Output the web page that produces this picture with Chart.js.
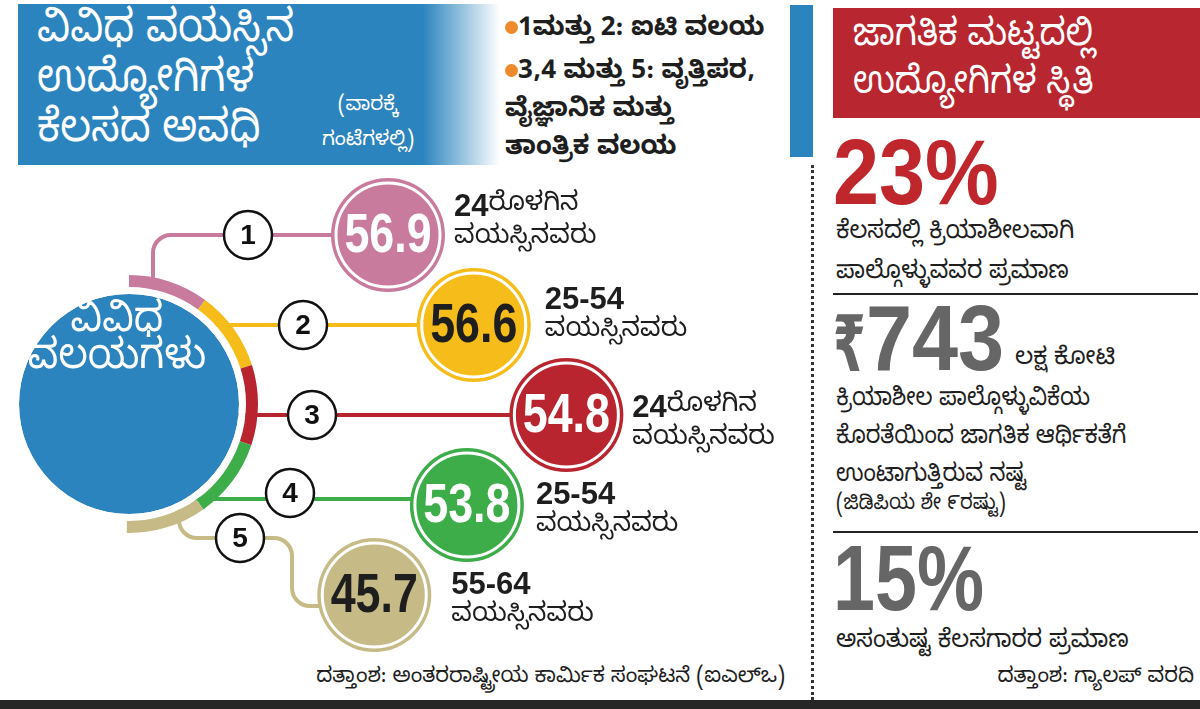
<!DOCTYPE html>
<html lang="kn">
<head>
<meta charset="utf-8">
<script src="https://cdn.jsdelivr.net/npm/chart.js@4.4.1/dist/chart.umd.min.js"></script>
<style>
  html, body { margin: 0; padding: 0; background: #fff; }
  #pagina { position: relative; width: 1200px; height: 709px; overflow: hidden; background: #fff;
            font-family: "Noto Sans Kannada", "Noto Sans", "DejaVu Sans", sans-serif; color: #1e1e1e; }
  .abs { position: absolute; white-space: nowrap; }
  .estreito { transform-origin: left top; }
  .numeroGrande { font-family: "Liberation Sans", Arial, sans-serif; font-weight: bold; font-size: 92px;
                  line-height: 92px; transform: scaleX(0.9); transform-origin: left top; }
  .texto26 { font-size: 25px; line-height: 40px; }
  .fonte { font-size: 21px; line-height: 30px; }
</style>
</head>
<body>
<div id="pagina">

  <!-- cabeçalho azul da esquerda -->
  <div class="abs" style="left:18px;top:4px;width:482px;height:161px;background:linear-gradient(to right,#2b84be 0%,#2b84be 84%,#ffffff 100%);"></div>
  <div class="abs estreito" style="left:37px;top:10px;font-size:45px;line-height:50px;color:#fff;transform:scaleX(0.9);">ವಿವಿಧ ವಯಸ್ಸಿನ<br>ಉದ್ಯೋಗಿಗಳ<br>ಕೆಲಸದ ಅವಧಿ</div>
  <div class="abs" style="left:312px;top:90px;width:112px;text-align:center;font-size:20px;line-height:35px;color:#fff;">(ವಾರಕ್ಕೆ<br>ಗಂಟೆಗಳಲ್ಲಿ)</div>

  <!-- legenda dos setores -->
  <div class="abs" style="left:505px;top:13px;font-size:26px;line-height:38px;font-weight:bold;">
    <span style="display:inline-block;width:13px;height:13px;border-radius:50%;background:#ef8a2c;vertical-align:middle;"></span>1ಮತ್ತು 2: ಐಟಿ ವಲಯ</div>
  <div class="abs" style="left:505px;top:56px;font-size:26px;line-height:38px;font-weight:bold;">
    <span style="display:inline-block;width:13px;height:13px;border-radius:50%;background:#ef8a2c;vertical-align:middle;"></span>3,4 ಮತ್ತು 5: ವೃತ್ತಿಪರ,<br>ವೈಜ್ಞಾನಿಕ ಮತ್ತು<br>ತಾಂತ್ರಿಕ ವಲಯ</div>

  <!-- barra azul e linha pontilhada -->
  <div class="abs" style="left:790px;top:5px;width:23px;height:152px;background:#2b84be;"></div>
  <div class="abs" style="left:811px;top:165px;height:535px;border-left:3px dotted #333;"></div>

  <!-- painel da direita -->
  <div class="abs" style="left:833px;top:8px;width:367px;height:110px;background:#b8262f;"></div>
  <div class="abs estreito" style="left:853px;top:16px;font-size:38px;line-height:48px;color:#fff;transform:scaleX(0.9);">ಜಾಗತಿಕ ಮಟ್ಟದಲ್ಲಿ<br>ಉದ್ಯೋಗಿಗಳ ಸ್ಥಿತಿ</div>

  <div class="abs numeroGrande" style="left:833px;top:126px;color:#c0272d;">23%</div>
  <div class="abs texto26 estreito" style="left:836px;top:215px;transform:scaleX(0.94);">ಕೆಲಸದಲ್ಲಿ ಕ್ರಿಯಾಶೀಲವಾಗಿ<br>ಪಾಲ್ಗೊಳ್ಳುವವರ ಪ್ರಮಾಣ</div>
  <div class="abs" style="left:833px;top:293px;width:365px;height:2px;background:#222;"></div>

  <div class="abs" style="left:833px;top:298px;font-family:'DejaVu Sans',sans-serif;font-weight:bold;font-size:78px;line-height:92px;color:#666;transform:scaleX(0.6);transform-origin:left top;">₹</div>
  <div class="abs numeroGrande" style="left:866px;top:292px;color:#666;">743</div>
  <div class="abs" style="left:1015px;top:344px;font-size:24px;line-height:34px;">ಲಕ್ಷ ಕೋಟಿ</div>
  <div class="abs texto26 estreito" style="left:836px;top:383px;line-height:38px;transform:scaleX(0.9);">ಕ್ರಿಯಾಶೀಲ ಪಾಲ್ಗೊಳ್ಳುವಿಕೆಯ<br>ಕೊರತೆಯಿಂದ ಜಾಗತಿಕ ಆರ್ಥಿಕತೆಗೆ<br>ಉಂಟಾಗುತ್ತಿರುವ ನಷ್ಟ</div>
  <div class="abs estreito" style="left:836px;top:490px;font-size:21px;line-height:32px;transform:scaleX(0.93);">(ಜಿಡಿಪಿಯ ಶೇ ೯ರಷ್ಟು)</div>
  <div class="abs" style="left:833px;top:531px;width:365px;height:2px;background:#222;"></div>

  <div class="abs numeroGrande" style="left:833px;top:532px;color:#666;transform:scaleX(0.82);">15%</div>
  <div class="abs texto26 estreito" style="left:836px;top:624px;transform:scaleX(0.94);">ಅಸಂತುಷ್ಟ ಕೆಲಸಗಾರರ ಪ್ರಮಾಣ</div>
  <div class="abs fonte" style="right:6px;top:664px;">ದತ್ತಾಂಶ: ಗ್ಯಾಲಪ್ ವರದಿ</div>

  <!-- fonte do gráfico da esquerda -->
  <div class="abs fonte" style="right:415px;top:664px;">ದತ್ತಾಂಶ: ಅಂತರರಾಷ್ಟ್ರೀಯ ಕಾರ್ಮಿಕ ಸಂಘಟನೆ (ಐಎಲ್‌ಒ)</div>

  <!-- faixa preta do rodapé -->
  <div class="abs" style="left:0;top:700px;width:1200px;height:9px;background:#262626;"></div>

  <canvas id="graficoBolhas" class="abs" width="800" height="700" style="left:0;top:0;"></canvas>
  <canvas id="graficoAnel" class="abs" width="258" height="258" style="left:0;top:275px;"></canvas>
</div>

<script>
// ============================================================
// Dados: horas semanais de trabalho por setor e faixa etária
// ============================================================
const setores        = ["1", "2", "3", "4", "5"];
const horasSemanais  = [56.9, 56.6, 54.8, 53.8, 45.7];
const faixaNumero    = ["24", "25-54", "24", "25-54", "55-64"];
const faixaSufixo    = ["ರೊಳಗಿನ", "", "ರೊಳಗಿನ", "", ""];
const faixaSegunda   = ["ವಯಸ್ಸಿನವರು", "ವಯಸ್ಸಿನವರು", "ವಯಸ್ಸಿನವರು", "ವಯಸ್ಸಿನವರು", "ವಯಸ್ಸಿನವರು"];
const fatiaAnel      = [1, 1, 1, 1, 1];   // cada setor ocupa a mesma fatia do anel
const tituloCentro   = ["ವಿವಿಧ", "ವಲಯಗಳು"];

// ------------------------------------------------------------
// Estilos e posições (layout, não dados)
// ------------------------------------------------------------
const coresSetor  = ["#c97b9e", "#f6bd1a", "#b8252f", "#3dad4a", "#c6bb86"];
const corTexto    = ["#ffffff", "#1e1e1e", "#ffffff", "#ffffff", "#1e1e1e"];
const bolhaX      = [386, 486, 594, 478, 370];   // centro horizontal de cada bolha
const numeroX     = [248, 303, 312, 290, 240];   // círculo numerado sobre a linha
const rotuloDx    = [66, 71, 66, 69, 77];        // texto da faixa etária, à direita da bolha
const rotuloDy    = [-28, -25, -7, -10, -10];
const CENTRO_X = 129, CENTRO_Y = 404;            // centro do círculo azul
const FONTE_KN = '"Noto Sans Kannada", "Noto Sans", "DejaVu Sans", sans-serif';

// ------------------------------------------------------------
// Plugin: linhas de ligação, círculos numerados e textos
// ------------------------------------------------------------
const pluginLigacoes = {
  id: "ligacoes",
  beforeDatasetsDraw(chart) {
    const ctx = chart.ctx;
    const pts = chart.getDatasetMeta(0).data;
    const R = 18;
    ctx.save();
    pts.forEach((p, i) => {
      ctx.lineWidth = 4;
      ctx.strokeStyle = coresSetor[i];
      ctx.beginPath();
      if (i === 0) {
        const xv = CENTRO_X + 24;
        ctx.moveTo(xv, CENTRO_Y);
        ctx.lineTo(xv, p.y + R);
        ctx.arcTo(xv, p.y, xv + R, p.y, R);
        ctx.lineTo(p.x, p.y);
      } else if (i === 4) {
        const xv = CENTRO_X + 50, ya = p.y - 57, xb = 292, yb = p.y + 11;
        ctx.moveTo(xv, CENTRO_Y);
        ctx.lineTo(xv, ya - R);
        ctx.arcTo(xv, ya, xv + R, ya, R);
        ctx.lineTo(xb - R, ya);
        ctx.arcTo(xb, ya, xb, ya + R, R);
        ctx.lineTo(xb, yb - R);
        ctx.arcTo(xb, yb, xb + R, yb, R);
        ctx.lineTo(p.x, yb);
      } else {
        const yl = i === 3 ? p.y - 6 : p.y;
        ctx.moveTo(CENTRO_X, yl);
        ctx.lineTo(p.x, yl);
      }
      ctx.stroke();

      // círculo branco com o número do setor
      const ny = i === 4 ? p.y - 57 : (i === 3 ? p.y - 12 : p.y);
      ctx.beginPath();
      ctx.arc(numeroX[i], ny, 24, 0, Math.PI * 2);
      ctx.fillStyle = "#fff";
      ctx.fill();
      ctx.lineWidth = 2.5;
      ctx.strokeStyle = "#111";
      ctx.stroke();
      ctx.fillStyle = "#111";
      ctx.font = 'bold 28px "Liberation Sans", Arial, sans-serif';
      ctx.textAlign = "center";
      ctx.textBaseline = "middle";
      ctx.fillText(setores[i], numeroX[i], ny + 1);
    });
    ctx.restore();
  },
  afterDatasetsDraw(chart) {
    const ctx = chart.ctx;
    const pts = chart.getDatasetMeta(0).data;
    ctx.save();
    pts.forEach((p, i) => {
      // valor dentro da bolha (fonte estreitada na horizontal)
      ctx.save();
      ctx.translate(p.x, p.y + 2);
      ctx.scale(0.8, 1);
      ctx.fillStyle = corTexto[i];
      ctx.font = 'bold 56px "Liberation Sans", Arial, sans-serif';
      ctx.textAlign = "center";
      ctx.textBaseline = "middle";
      ctx.fillText(horasSemanais[i].toFixed(1), 0, 0);
      ctx.restore();

      // faixa etária à direita
      const xl = p.x + rotuloDx[i];
      const yl = p.y + rotuloDy[i];
      ctx.textAlign = "left";
      ctx.textBaseline = "middle";
      ctx.fillStyle = "#1e1e1e";
      ctx.font = 'bold 31px "Liberation Sans", Arial, sans-serif';
      ctx.fillText(faixaNumero[i], xl, yl);
      const w = ctx.measureText(faixaNumero[i]).width;
      ctx.font = "26px " + FONTE_KN;
      ctx.fillText(faixaSufixo[i], xl + w, yl);
      ctx.fillText(faixaSegunda[i], xl, yl + 33);
    });
    ctx.restore();
  },
};

// ------------------------------------------------------------
// Gráfico de bolhas (scatter com pontos grandes)
// ------------------------------------------------------------
const pontos = setores.map((s, i) => ({ x: bolhaX[i], y: s }));

const graficoBolhas = new Chart(document.getElementById("graficoBolhas").getContext("2d"), {
  type: "scatter",
  data: {
    datasets: [
      // bolha interna com borda branca (desenhada por cima)
      {
        data: pontos,
        backgroundColor: coresSetor,
        borderColor: "#ffffff",
        borderWidth: 3,
        pointRadius: 52,
        pointHoverRadius: 52,
        clip: false,
        order: 0,
      },
      // anel colorido externo
      {
        data: pontos,
        backgroundColor: coresSetor,
        borderWidth: 0,
        pointRadius: 57,
        pointHoverRadius: 57,
        clip: false,
        order: 1,
      },
    ],
  },
  options: {
    responsive: false,
    animation: false,
    events: [],
    layout: { padding: { top: 235, bottom: 105, left: 0, right: 0 } },
    scales: {
      x: { type: "linear", min: 0, max: 800, display: false },
      y: { type: "category", labels: setores, offset: false, display: false },
    },
    plugins: { legend: { display: false }, tooltip: { enabled: false } },
  },
  plugins: [pluginLigacoes],
});

// ------------------------------------------------------------
// Círculo central: anel colorido + espaço branco + disco azul
// ------------------------------------------------------------
const pluginTituloCentro = {
  id: "tituloCentro",
  afterDraw(chart) {
    const ctx = chart.ctx;
    const arco = chart.getDatasetMeta(2).data[0];
    ctx.save();
    ctx.translate(arco.x - 12, arco.y);
    ctx.scale(0.92, 1);
    ctx.fillStyle = "#fff";
    ctx.font = "42px " + FONTE_KN;
    ctx.textAlign = "center";
    ctx.textBaseline = "middle";
    ctx.fillText(tituloCentro[0], 0, -77);
    ctx.fillText(tituloCentro[1], 0, -40);
    ctx.restore();
  },
};

const graficoAnel = new Chart(document.getElementById("graficoAnel").getContext("2d"), {
  type: "doughnut",
  data: {
    labels: setores,
    datasets: [
      { data: fatiaAnel, backgroundColor: coresSetor, borderWidth: 0, rotation: 0, circumference: 181, weight: 12 },
      { data: [1], backgroundColor: ["#ffffff"], borderWidth: 0, weight: 7 },
      { data: [1], backgroundColor: ["#2b84be"], borderWidth: 0, weight: 110 },
    ],
  },
  options: {
    responsive: false,
    animation: false,
    events: [],
    cutout: 0,
    layout: { padding: 0 },
    plugins: { legend: { display: false }, tooltip: { enabled: false } },
  },
  plugins: [pluginTituloCentro],
});
</script>
</body>
</html>
